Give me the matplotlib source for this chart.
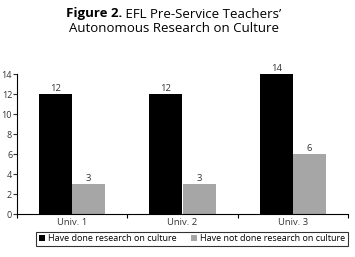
import numpy as np
import matplotlib
matplotlib.use("Agg")
import matplotlib.pyplot as plt

categories = ["Univ. 1", "Univ. 2", "Univ. 3"]
done = [12, 12, 14]
not_done = [3, 3, 6]
series_names = ["Have done research on culture", "Have not done research on culture"]

plt.rcParams["font.family"] = ["Open Sans", "DejaVu Sans"]

fig = plt.figure(figsize=(3.55, 2.57), dpi=100)
ax = fig.add_axes([17 / 355, 1 - 214 / 257, 331 / 355, 140 / 257])

x = np.arange(len(categories))
w = 0.3
b1 = ax.bar(x - w / 2, done, w, color="black", label=series_names[0])
b2 = ax.bar(x + w / 2, not_done, w, color="#a6a6a6", label=series_names[1])

for bars in (b1, b2):
    for r in bars:
        ax.text(r.get_x() + r.get_width() / 2, r.get_height() + 0.1, f"{int(r.get_height())}",
                ha="center", va="bottom", fontsize=6.8, color="#333333")

ax.set_xlim(-0.5, 2.5)
ax.set_ylim(0, 14)
ax.set_yticks(range(0, 15, 2))
ax.set_xticks([-0.5, 0.5, 1.5, 2.5])
ax.set_xticklabels([])
ax.set_xticks(x, minor=True)
ax.set_xticklabels(categories, minor=True)
ax.tick_params(axis="x", which="minor", length=0, labelsize=6.8, colors="#333333", pad=3)
ax.tick_params(axis="x", which="major", length=3, direction="out")
ax.tick_params(axis="y", length=3, labelsize=6.5, colors="#333333", pad=0.5)
for s in ("top", "right"):
    ax.spines[s].set_visible(False)

leg = ax.legend(loc="upper right", bbox_to_anchor=(1.0, -0.125), ncol=2, fontsize=6.5,
                frameon=True, fancybox=False, edgecolor="black", handlelength=0.7,
                handleheight=0.7, handletextpad=0.3, columnspacing=1.6, borderpad=0.3,
                borderaxespad=0)
leg.get_frame().set_linewidth(0.8)

# title with bold "Figure 2." prefix
fig.canvas.draw()
r = fig.canvas.get_renderer()
t1 = fig.text(0, 1 - 14 / 257, "Figure 2.", fontsize=9.5, fontweight="bold", va="center")
t2 = fig.text(0, 1 - 14 / 257, " EFL Pre-Service Teachers\u2019", fontsize=9.5, va="center")
w1 = t1.get_window_extent(r).width
w2 = t2.get_window_extent(r).width
start = 174 - (w1 + w2) / 2
t1.set_x(start / 355)
t2.set_x((start + w1) / 355)
fig.text(174 / 355, 1 - 29 / 257, "Autonomous Research on Culture", fontsize=9.5,
         ha="center", va="center")

fig.savefig("out.png", dpi=100)
